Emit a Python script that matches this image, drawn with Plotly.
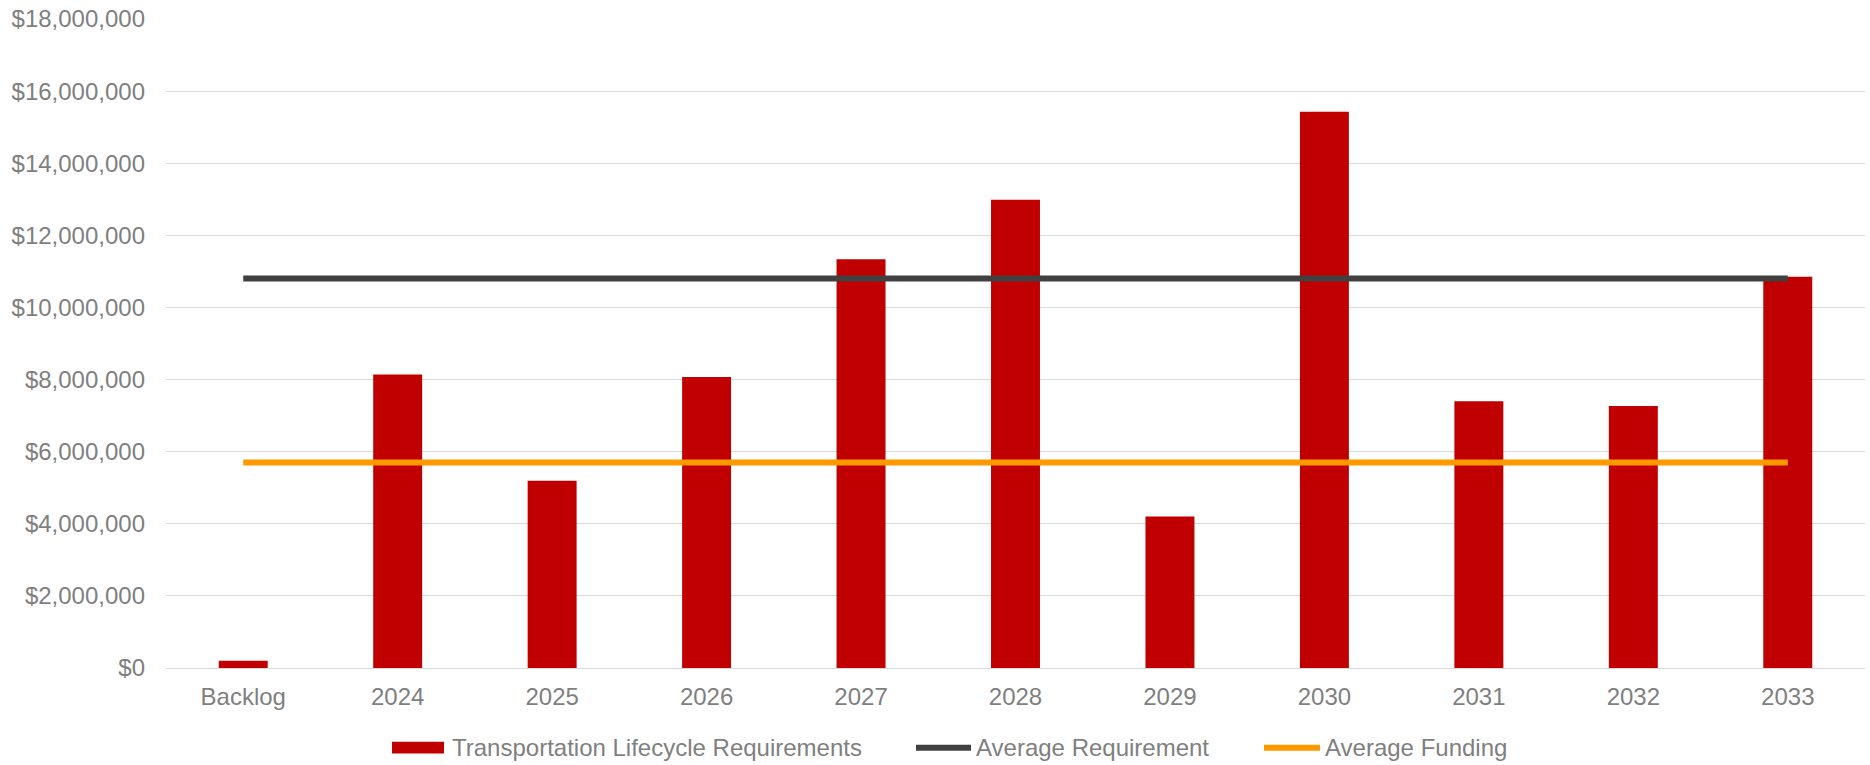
import plotly.graph_objects as go

# ---- data ----
categories = ["Backlog", "2024", "2025", "2026", "2027", "2028",
              "2029", "2030", "2031", "2032", "2033"]
lifecycle_requirements = [200_000, 8_140_000, 5_190_000, 8_070_000, 11_340_000,
                          12_990_000, 4_200_000, 15_430_000, 7_400_000,
                          7_270_000, 10_850_000]
average_requirement = 10_800_000
average_funding = 5_700_000

y_tick_values = [0, 2_000_000, 4_000_000, 6_000_000, 8_000_000, 10_000_000,
                 12_000_000, 14_000_000, 16_000_000, 18_000_000]
y_tick_labels = ["$0", "$2,000,000", "$4,000,000", "$6,000,000", "$8,000,000",
                 "$10,000,000", "$12,000,000", "$14,000,000", "$16,000,000",
                 "$18,000,000"]

# ---- styling ----
RED = "#C00000"
DARK = "#404040"
ORANGE = "#FF9900"
TEXT = "#7F7F7F"
GRID = "#D9D9D9"
FONT = "Liberation Sans, Arial, sans-serif"
FS = 24

W, H = 1870, 765
ML, MR, MT, MB = 166, 5, 16, 97
PW, PH = W - ML - MR, H - MT - MB


def px_x(x):
    """pixel x -> paper x"""
    return (x - ML) / PW


def px_y(y):
    """pixel y (from top) -> paper y"""
    return (H - MB - y) / PH


fig = go.Figure()

fig.add_trace(go.Bar(
    x=categories, y=lifecycle_requirements,
    name="Transportation Lifecycle Requirements",
    marker=dict(color=RED, line=dict(width=0)),
    width=0.317, showlegend=False,
))
fig.add_trace(go.Scatter(
    x=categories, y=[average_requirement] * len(categories),
    name="Average Requirement", mode="lines",
    line=dict(color=DARK, width=6), showlegend=False,
))
fig.add_trace(go.Scatter(
    x=categories, y=[average_funding] * len(categories),
    name="Average Funding", mode="lines",
    line=dict(color=ORANGE, width=6), showlegend=False,
))

# legend row below the axis
legend_y = 748
legend_items = [
    ("rect", RED, 392, 444, 450, "Transportation Lifecycle Requirements"),
    ("line", DARK, 916, 971, 974, "Average Requirement"),
    ("line", ORANGE, 1264, 1320, 1323, "Average Funding"),
]
shapes = []
annotations = []
for kind, color, x0, x1, tx, label in legend_items:
    if kind == "rect":
        shapes.append(dict(type="rect", xref="paper", yref="paper",
                           x0=px_x(x0), x1=px_x(x1),
                           y0=px_y(legend_y + 6), y1=px_y(legend_y - 6),
                           fillcolor=color, line=dict(width=0)))
    else:
        shapes.append(dict(type="line", xref="paper", yref="paper",
                           x0=px_x(x0), x1=px_x(x1),
                           y0=px_y(legend_y), y1=px_y(legend_y),
                           line=dict(color=color, width=6)))
    annotations.append(dict(xref="paper", yref="paper", x=px_x(tx), y=px_y(legend_y),
                            xanchor="left", yanchor="middle", showarrow=False,
                            text=label, font=dict(family=FONT, size=FS, color=TEXT)))

fig.update_layout(
    width=W, height=H,
    margin=dict(l=ML, r=MR, t=MT, b=MB, pad=0),
    paper_bgcolor="white", plot_bgcolor="white",
    font=dict(family=FONT, size=FS, color=TEXT),
    showlegend=False,
    shapes=shapes,
    annotations=annotations,
    xaxis=dict(type="category", showgrid=False, showline=False, zeroline=False,
               ticks="", ticklabelstandoff=12,
               tickfont=dict(family=FONT, size=FS, color=TEXT)),
    yaxis=dict(range=[0, 18_000_000], tickmode="array",
               tickvals=y_tick_values, ticktext=y_tick_labels,
               showgrid=True, gridcolor=GRID, gridwidth=1.3,
               zeroline=True, zerolinecolor=GRID, zerolinewidth=1.3,
               showline=False, ticks="", ticklabelstandoff=20,
               tickfont=dict(family=FONT, size=FS, color=TEXT)),
)

fig.write_html("out.html")
